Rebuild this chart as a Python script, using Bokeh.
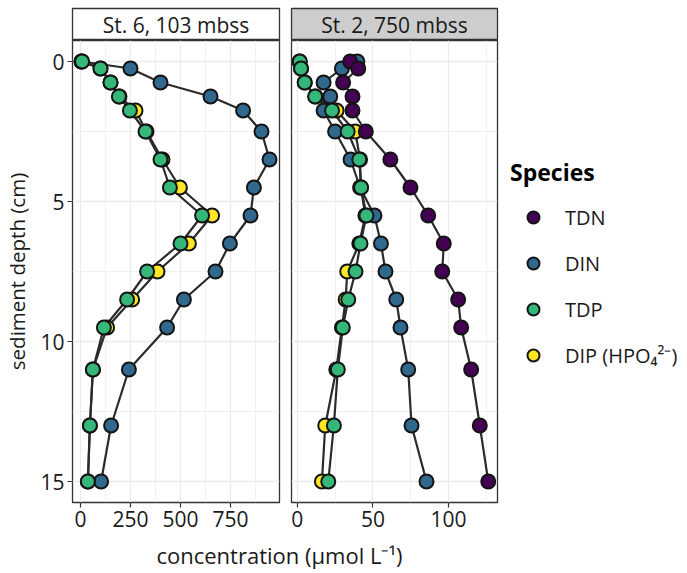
from bokeh.plotting import figure
from bokeh.models import Range1d, FixedTicker, Label, Legend, LegendItem, ColumnDataSource
from bokeh.layouts import row, column
from bokeh.embed import file_html
from bokeh.resources import INLINE

# ---------------- data ----------------
depth_cm = [0, 0.25, 0.75, 1.25, 1.75, 2.5, 3.5, 4.5, 5.5, 6.5, 7.5, 8.5, 9.5, 11, 13, 15]

species = ["TDN", "DIN", "TDP", "DIP (HPO₄²⁻)"]
species_colors = ["#440154", "#31688E", "#35B779", "#FDE725"]

panel_titles = ["St. 6, 103 mbss", "St. 2, 750 mbss"]

# St. 6, 103 mbss (no TDN measured)
st6_DIN = [5, 250, 400, 650, 813, 905, 945, 867, 850, 747, 675, 517, 433, 242, 153, 103]
st6_DIP = [5, 100, 150, 195, 275, 330, 410, 497, 658, 542, 385, 258, 133, 62, 47, 37]
st6_TDP = [8, 100, 150, 192, 247, 325, 400, 447, 608, 500, 333, 233, 117, 62, 47, 37]

# St. 2, 750 mbss
st2_TDN = [35, 40.3, 30.3, 36.5, 36.5, 45.3, 61.5, 74.8, 86.5, 96.8, 95.8, 106.3, 108.3, 114.9, 120.6, 126.2]
st2_DIN = [39.7, 29.5, 17.4, 21.8, 17.4, 25, 35.2, 41.5, 51, 55.3, 58.3, 65.4, 68.2, 73.3, 75.5, 85.4]
st2_DIP = [1.5, 2.5, 5, 12, 26, 38.3, 41.5, 42, 45, 41, 33, 32, 29.5, 25.8, 18.5, 16.3]
st2_TDP = [1.7, 2.5, 4.9, 11.8, 23, 33.3, 41, 42.2, 45.7, 41.8, 38.5, 33.7, 30.1, 26.8, 24.2, 20.5]

st6_xticks = [0, 250, 500, 750]
st6_xminor = [125, 375, 625, 875]
st2_xticks = [0, 50, 100]
st2_xminor = [25, 75, 125]
yticks = [0, 5, 10, 15]
yminor = [2.5, 7.5, 12.5]

FONT = "Open Sans"
TXT = "#1A1A1A"
GRID = "#EBEBEB"
BORDER = "#333333"
PANEL_H = 498   # 462 px frame + 36 px for tick labels


def make_strip(text, fill, width, ml, mr):
    s = figure(width=width, height=40, x_range=Range1d(0, 1), y_range=Range1d(0, 1),
               x_axis_type=None, y_axis_type=None, toolbar_location=None,
               output_backend="svg", min_border_left=ml, min_border_right=mr,
               min_border_top=8, min_border_bottom=0)
    s.grid.visible = False
    s.background_fill_color = fill
    s.border_fill_color = "white"
    s.outline_line_color = BORDER
    s.outline_line_width = 1.3
    s.add_layout(Label(x=0.5, y=0.5, text=text, text_align="center", text_baseline="middle",
                       text_font_size="21px", text_font=FONT, text_color=TXT))
    return s


def make_panel(xr, xt, xm, series, width, ml, mr, show_y):
    p = figure(width=width, height=PANEL_H, x_range=xr, y_range=Range1d(15.75, -0.75),
               toolbar_location=None, output_backend="svg",
               min_border_left=ml, min_border_right=mr, min_border_top=0, min_border_bottom=36)
    p.background_fill_color = "white"
    p.border_fill_color = "white"
    p.outline_line_color = BORDER
    p.outline_line_width = 1.3
    p.xaxis.ticker = FixedTicker(ticks=xt, minor_ticks=xm)
    p.yaxis.ticker = FixedTicker(ticks=yticks, minor_ticks=yminor)
    p.xgrid.ticker = FixedTicker(ticks=xt, minor_ticks=xm)
    p.ygrid.ticker = FixedTicker(ticks=yticks, minor_ticks=yminor)
    for g in (p.xgrid, p.ygrid):
        g.grid_line_color = GRID
        g.grid_line_width = 1.3
        g.minor_grid_line_color = GRID
        g.minor_grid_line_width = 0.7
    for ax in (p.xaxis, p.yaxis):
        ax.axis_line_color = None
        ax.major_tick_line_color = BORDER
        ax.major_tick_line_width = 1.2
        ax.major_tick_out = 5
        ax.major_tick_in = 0
        ax.minor_tick_line_color = None
        ax.major_label_text_font = FONT
        ax.major_label_text_font_size = "21px"
        ax.major_label_text_color = TXT
        ax.major_label_standoff = 3
    if show_y:
        p.yaxis.axis_label = "sediment depth (cm)"
        p.yaxis.axis_label_text_font = FONT
        p.yaxis.axis_label_text_font_size = "20.5px"
        p.yaxis.axis_label_text_font_style = "normal"
        p.yaxis.axis_label_text_color = TXT
        p.yaxis.axis_label_standoff = 6
    else:
        p.yaxis.visible = False

    sources = {}
    for name, vals, col in series:
        sources[name] = ColumnDataSource(dict(conc=vals, depth=depth_cm))
    # lines first, then points (alphabetical group order)
    for name, vals, col in series:
        p.line("conc", "depth", source=sources[name], line_color="#2B2B2B", line_width=2.2)
    for name, vals, col in series:
        p.scatter("conc", "depth", source=sources[name], size=14, fill_color=col,
                  line_color="#141414", line_width=2)
    return p, sources


cmap = dict(zip(species, species_colors))

s6 = [("DIN", st6_DIN, cmap["DIN"]), ("DIP (HPO₄²⁻)", st6_DIP, cmap["DIP (HPO₄²⁻)"]),
      ("TDP", st6_TDP, cmap["TDP"])]
s2 = [("DIN", st2_DIN, cmap["DIN"]), ("DIP (HPO₄²⁻)", st2_DIP, cmap["DIP (HPO₄²⁻)"]),
      ("TDN", st2_TDN, cmap["TDN"]), ("TDP", st2_TDP, cmap["TDP"])]

p1, _ = make_panel(Range1d(-40, 995), st6_xticks, st6_xminor, s6, 285, 72, 6, True)
p2, srcs = make_panel(Range1d(-3.8, 132.3), st2_xticks, st2_xminor, s2, 215, 6, 3, False)
strip1 = make_strip(panel_titles[0], "white", 285, 72, 6)
strip2 = make_strip(panel_titles[1], "#CDCDCD", 215, 6, 3)

# legend figure: its key renderers share the panel data, but its (negative) x range
# keeps those points off its canvas, so only the legend keys are drawn
lg = figure(width=187, height=PANEL_H + 40, x_range=Range1d(-2, -1), y_range=Range1d(0, 1),
            x_axis_type=None, y_axis_type=None, toolbar_location=None, output_backend="svg",
            min_border_left=0, min_border_right=0, min_border_top=0, min_border_bottom=0)
lg.grid.visible = False
lg.outline_line_color = None
items = []
for name, col in zip(species, species_colors):
    r = lg.scatter("conc", "depth", source=srcs[name], size=12, fill_color=col,
                   line_color="#141414", line_width=2)
    items.append(LegendItem(label=name, renderers=[r]))
legend = Legend(items=items, location=(10, 168), title="Species",
                title_text_font=FONT, title_text_font_size="23px", title_text_font_style="bold",
                title_text_color="black", title_standoff=14,
                label_text_font=FONT, label_text_font_size="20px", label_text_color=TXT,
                glyph_width=46, glyph_height=30, spacing=16, label_standoff=9,
                padding=0, margin=0, border_line_color=None, background_fill_alpha=0)
lg.add_layout(legend)

# x-axis title spanning both panels
xt = figure(width=687, height=35, x_range=Range1d(0, 1), y_range=Range1d(0, 1),
            x_axis_type=None, y_axis_type=None, toolbar_location=None, output_backend="svg",
            min_border_left=0, min_border_right=0, min_border_top=0, min_border_bottom=0)
xt.grid.visible = False
xt.outline_line_color = None
xt.add_layout(Label(x=279, y=19, x_units="screen", y_units="screen",
                    text="concentration (µmol L⁻¹)", text_align="center", text_baseline="middle",
                    text_font=FONT, text_font_size="22px", text_color=TXT))

layout = column(row(column(strip1, p1), column(strip2, p2), lg), xt)

open("out.html", "w").write(file_html(layout, INLINE))
